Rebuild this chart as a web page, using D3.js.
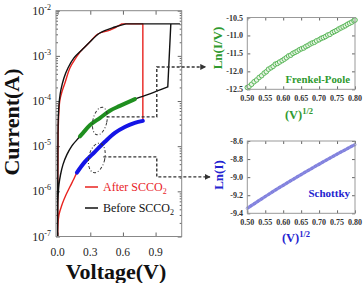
<!DOCTYPE html>
<html><head><meta charset="utf-8">
<script src="https://cdn.jsdelivr.net/npm/d3@7"></script>
<style>
body{margin:0;background:#fff}
svg{display:block}
text{font-family:"Liberation Serif","Times New Roman",serif}
</style>
</head><body>
<svg width="364" height="283"></svg>
<script>
// ---------- DATA ----------
const compliance = 5.1e-3;
// Before SCCO2: forward branch, set (compliance) segment, return branch
const beforeFwdV = [0,0.001,0.003,0.012,0.026,0.049,0.085,0.131,0.177,0.232,0.296,0.388,0.48,0.572,0.69,0.847,1.012];
const beforeFwdI = [1e-7,3.0e-7,6.5e-7,1.4e-6,2.3e-6,3.9e-6,6.5e-6,1.02e-5,1.38e-5,1.95e-5,2.9e-5,4.2e-5,6.1e-5,7.8e-5,1.05e-4,1.44e-4,2.05e-4];
const beforeSetV = [1.012,1.04,1.12,0.627];
const beforeRetV = [0.627,0.526,0.388,0.296,0.223,0.150,0.095,0.058,0.030,0.0165,0.007,0.003,0];
const beforeRetI = [5.1e-3,4.35e-3,3.21e-3,2.03e-3,1.35e-3,9.0e-4,5.4e-4,3.24e-4,1.76e-4,1.06e-4,4.9e-5,1.78e-5,1e-7];
// After SCCO2
const afterFwdV = [0,0.003,0.012,0.039,0.076,0.113,0.15,0.177,0.25,0.342,0.434,0.526,0.617,0.709,0.783];
const afterFwdI = [1e-7,1.8e-7,3.0e-7,5.0e-7,8.3e-7,1.26e-6,1.9e-6,2.6e-6,4.5e-6,7.5e-6,1.25e-5,1.97e-5,2.67e-5,3.27e-5,3.63e-5];
const afterSetV = [0.783,0.783,0.59];
const afterRetV = [0.59,0.48,0.37,0.278,0.205,0.168,0.113,0.067,0.039,0.021,0.012,0.0055,0.003,0];
const afterRetI = [5.1e-3,3.7e-3,3.05e-3,1.83e-3,1.22e-3,9.0e-4,5.4e-4,2.5e-4,1.58e-4,1.06e-4,6.3e-5,2.3e-5,5e-6,1e-7];
// Highlighted fitting regions
const fpRegionV = [0.205,0.232,0.296,0.388,0.48,0.572,0.69,0.71];
const fpRegionI = [1.65e-5,1.95e-5,2.9e-5,4.2e-5,6.1e-5,7.8e-5,1.05e-4,1.1e-4];
const schRegionV = [0.177,0.25,0.342,0.434,0.526,0.617,0.709,0.783];
const schRegionI = [2.6e-6,4.5e-6,7.5e-6,1.25e-5,1.97e-5,2.67e-5,3.27e-5,3.63e-5];
// Main axes ticks
const xTicks = [0.0,0.3,0.6,0.9];
const yDecades = [-7,-6,-5,-4,-3,-2];
// Legend
const legendLabels = ["After SCCO", "Before SCCO"];
// Frenkel-Poole inset
const fpX = [0.500,0.505,0.512,0.519,0.526,0.533,0.540,0.547,0.553,0.559,0.566,0.572,0.578,0.584,0.590,0.597,0.603,0.609,0.615,0.621,0.627,0.633,0.639,0.645,0.651,0.657,0.663,0.669,0.675,0.681,0.687,0.693,0.700,0.706,0.712,0.718,0.724,0.730,0.737,0.743,0.749,0.755,0.761,0.767,0.773,0.779,0.785,0.791,0.797,0.800];
const fpY = [-12.45,-12.42,-12.36,-12.29,-12.24,-12.17,-12.12,-12.05,-12.01,-11.94,-11.90,-11.86,-11.80,-11.78,-11.74,-11.70,-11.66,-11.62,-11.57,-11.55,-11.50,-11.47,-11.44,-11.40,-11.37,-11.35,-11.31,-11.28,-11.24,-11.21,-11.19,-11.15,-11.12,-11.08,-11.06,-11.03,-10.99,-10.97,-10.92,-10.89,-10.86,-10.82,-10.79,-10.76,-10.73,-10.69,-10.66,-10.63,-10.59,-10.57];
const fpYTicks = [-10.5,-11.0,-11.5,-12.0,-12.5];
// Schottky inset
const schX = [0.50,0.51,0.52,0.53,0.54,0.55,0.56,0.57,0.58,0.59,0.60,0.61,0.62,0.63,0.64,0.65,0.66,0.67,0.68,0.69,0.70,0.71,0.72,0.73,0.74,0.75,0.76,0.77,0.78,0.79,0.80];
const schY = [-9.345,-9.318,-9.292,-9.266,-9.240,-9.214,-9.189,-9.164,-9.139,-9.114,-9.090,-9.066,-9.042,-9.018,-8.994,-8.971,-8.948,-8.925,-8.902,-8.879,-8.857,-8.834,-8.812,-8.790,-8.768,-8.746,-8.724,-8.703,-8.681,-8.660,-8.640];
const schYTicks = [-8.6,-8.8,-9.0,-9.2,-9.4];
const insetXTicks = [0.50,0.55,0.60,0.65,0.70,0.75,0.80];
// Annotation anchors (data units of main plot)
const ellipseAnchors = [[0.388,3.6e-5],[0.36,5.5e-6]];
const connector1 = [[0.45,4.45e-5],[0.911,4.45e-5],[0.911,5.68e-4],[1.36,5.68e-4]];
const connector2 = [[0.42,5.79e-6],[0.911,5.79e-6],[0.911,2.09e-6],[1.40,2.09e-6]];

// ---------- COLOURS ----------
const RED = "#e8231f", BLACK = "#111", GREEN = "#1f8f1f", BLUE = "#1414e6";
const FPC = "#2f9a2f", FPM = "#5cb85c", SCHC = "#2323d0", SCHM = "#8d8de2";

const svg = d3.select("svg");
const defs = svg.append("defs");
defs.append("marker").attr("id","arr").attr("viewBox","0 0 10 10").attr("refX",9).attr("refY",5)
  .attr("markerWidth",6).attr("markerHeight",6).attr("markerUnits","userSpaceOnUse").attr("orient","auto")
  .append("path").attr("d","M0,0L10,5L0,10Z").attr("fill","#333");

// ---------- MAIN PLOT ----------
const x = d3.scaleLinear().domain([-0.015,1.14]).range([56,181.7]);
const y = d3.scaleLog().domain([1e-7,1e-2]).range([236.5,10.7]);
const [X0,X1] = x.range(), [Y0,Y1] = y.range();
const main = svg.append("g");

function inward(sel){ sel.select(".domain").remove(); sel.selectAll("line").attr("stroke","#666"); }
const minors = [];
yDecades.slice(0,-1).forEach(e=>{ for(let k=2;k<10;k++) minors.push(k*Math.pow(10,e)); });
const majors = yDecades.map(e=>Math.pow(10,e));

main.append("g").attr("transform",`translate(${X0},0)`).call(d3.axisLeft(y).tickValues(majors).tickSize(-4).tickFormat("")).call(inward);
main.append("g").attr("transform",`translate(${X0},0)`).call(d3.axisLeft(y).tickValues(minors).tickSize(-2).tickFormat("")).call(inward);
main.append("g").attr("transform",`translate(${X1},0)`).call(d3.axisRight(y).tickValues(majors).tickSize(-4).tickFormat("")).call(inward);
main.append("g").attr("transform",`translate(${X1},0)`).call(d3.axisRight(y).tickValues(minors).tickSize(-2).tickFormat("")).call(inward);
main.append("g").attr("transform",`translate(0,${Y0})`).call(d3.axisBottom(x).tickValues(xTicks).tickSize(-4).tickFormat("")).call(inward);
main.append("g").attr("transform",`translate(0,${Y1})`).call(d3.axisTop(x).tickValues(xTicks).tickSize(-4).tickFormat("")).call(inward);

const yl = main.selectAll(".ylab").data(yDecades).join("text")
  .attr("x",X0-5).attr("y",e=>y(Math.pow(10,e))+4).attr("text-anchor","end")
  .attr("font-size",12).attr("fill","#222").text("10");
yl.append("tspan").attr("dy",-5).attr("font-size",8).text(e=>"-"+Math.abs(e));
main.selectAll(".xlab").data(xTicks).join("text")
  .attr("x",d=>x(d)).attr("y",Y0+19).attr("text-anchor","middle")
  .attr("font-size",11.5).attr("fill","#222").text(d=>d3.format(".1f")(d));

const zip = (a,b)=>a.map((v,i)=>[v,b[i]]);
const smooth = d3.line().x(d=>x(d[0])).y(d=>y(d[1])).curve(d3.curveCatmullRom.alpha(0.5));
const straight = d3.line().x(d=>x(d[0])).y(d=>y(d[1]));

function sweep(fwdV,fwdI,setV,retV,retI,color){
  const fwd = zip(fwdV,fwdI);
  const set = setV.map((v,i)=>[v, i===0 ? fwd[fwd.length-1][1] : compliance]);
  const p = smooth(fwd) + straight(set).replace(/^M/,"L") + smooth(zip(retV,retI)).replace(/^M/,"L");
  main.append("path").attr("d",p).attr("fill","none").attr("stroke",color).attr("stroke-width",1.4).attr("stroke-linejoin","round");
}
sweep(afterFwdV,afterFwdI,afterSetV,afterRetV,afterRetI,RED);
sweep(beforeFwdV,beforeFwdI,beforeSetV,beforeRetV,beforeRetI,BLACK);
main.append("path").attr("d",smooth(zip(fpRegionV,fpRegionI))).attr("fill","none").attr("stroke",GREEN).attr("stroke-width",4).attr("stroke-linecap","round");
main.append("path").attr("d",smooth(zip(schRegionV,schRegionI))).attr("fill","none").attr("stroke",BLUE).attr("stroke-width",4).attr("stroke-linecap","round");

main.append("rect").attr("x",X0).attr("y",Y1).attr("width",X1-X0).attr("height",Y0-Y1)
  .attr("fill","none").attr("stroke","#888").attr("stroke-width",1);

ellipseAnchors.forEach((a,i)=>{
  main.append("ellipse").attr("cx",x(a[0])).attr("cy",y(a[1])).attr("rx",i?8:7).attr("ry",i?15:14)
    .attr("transform",`rotate(12,${x(a[0])},${y(a[1])})`)
    .attr("fill","none").attr("stroke","#333").attr("stroke-width",1).attr("stroke-dasharray","3,2,1,2");
});
[connector1,connector2].forEach(c=>{
  main.append("path").attr("d",straight(c)).attr("fill","none").attr("stroke","#333").attr("stroke-width",1.4)
    .attr("stroke-dasharray","3,2").attr("marker-end","url(#arr)");
});

const legColors = [RED,BLACK];
legendLabels.forEach((t,i)=>{
  const ly = 187 + i*21;
  main.append("line").attr("x1",85).attr("x2",98).attr("y1",ly).attr("y2",ly).attr("stroke",legColors[i]).attr("stroke-width",1.5);
  const tx = main.append("text").attr("x",103).attr("y",ly+4).attr("font-size",12).attr("fill",legColors[i]).text(t);
  tx.append("tspan").attr("dy",3).attr("font-size",8).text("2");
});

main.append("text").attr("transform","translate(19,122) rotate(-90)").attr("text-anchor","middle")
  .attr("font-size",22).attr("font-weight","bold").attr("fill","#111").text("Current(A)");
main.append("text").attr("x",116).attr("y",279).attr("text-anchor","middle")
  .attr("font-size",22).attr("font-weight","bold").attr("fill","#111").text("Voltage(V)");

// ---------- INSETS ----------
function inset(opt){
  const g = svg.append("g");
  const ix = d3.scaleLinear().domain([0.5,0.8]).range([247.3,355]);
  const iy = d3.scaleLinear().domain(opt.ydom).range([opt.bottom,opt.top]);
  g.append("g").attr("transform",`translate(${247.3},0)`).call(d3.axisLeft(iy).tickValues(opt.yticks).tickSize(-3).tickFormat("")).call(inward);
  g.append("g").attr("transform",`translate(0,${opt.bottom})`).call(d3.axisBottom(ix).tickValues(insetXTicks).tickSize(-3).tickFormat("")).call(inward);
  g.append("g").attr("transform",`translate(0,${opt.top})`).call(d3.axisTop(ix).tickValues(insetXTicks).tickSize(-3).tickFormat("")).call(inward);
  g.append("g").attr("transform",`translate(355,0)`).call(d3.axisRight(iy).tickValues(opt.yticks).tickSize(-3).tickFormat("")).call(inward);
  g.selectAll(".iyl").data(opt.yticks).join("text").attr("x",243).attr("y",d=>iy(d)+3)
    .attr("text-anchor","end").attr("font-size",8).attr("font-weight","bold").attr("fill","#333").text(d=>d3.format(".1f")(d).replace("−","-"));
  g.selectAll(".ixl").data(insetXTicks).join("text").attr("x",d=>ix(d)).attr("y",opt.bottom+12)
    .attr("text-anchor","middle").attr("font-size",8).attr("font-weight","bold").attr("fill","#333").text(d=>d3.format(".2f")(d));
  opt.draw(g,ix,iy);
  g.append("rect").attr("x",247.3).attr("y",opt.top).attr("width",355-247.3).attr("height",opt.bottom-opt.top)
    .attr("fill","none").attr("stroke","#999");
  const xl = g.append("text").attr("x",opt.xlx).attr("y",opt.xly).attr("text-anchor","middle")
    .attr("font-size",12.5).attr("font-weight","bold").attr("fill",opt.color).text("(V)");
  xl.append("tspan").attr("dy",-5).attr("font-size",8.5).text("1/2");
  g.append("text").attr("transform",`translate(${opt.ylx},${opt.yly}) rotate(-90)`).attr("text-anchor","middle")
    .attr("font-size",13).attr("font-weight","bold").attr("fill",opt.color).text(opt.ylabel);
  g.append("text").attr("x",350).attr("y",opt.tagY).attr("text-anchor","end")
    .attr("font-size",opt.tagSize).attr("font-weight","bold").attr("fill",opt.color).text(opt.tag);
}

inset({ydom:[-12.5,-10.5], top:17.5, bottom:89.3, yticks:fpYTicks, color:FPC,
  xlx:299, xly:119, ylx:222, yly:48, ylabel:"Ln(I/V)", tag:"Frenkel-Poole", tagY:83, tagSize:10.8,
  draw:(g,ix,iy)=>{
    g.selectAll(".fp").data(zip(fpX,fpY)).join("circle").attr("cx",d=>ix(d[0])).attr("cy",d=>iy(d[1]))
      .attr("r",2.3).attr("fill","#e8f5e4").attr("stroke",FPM).attr("stroke-width",1);
  }});
inset({ydom:[-9.4,-8.6], top:141, bottom:213.3, yticks:schYTicks, color:SCHC,
  xlx:296, xly:242, ylx:223, yly:175, ylabel:"Ln(I)", tag:"Schottky", tagY:197, tagSize:11,
  draw:(g,ix,iy)=>{
    g.append("path").attr("d",d3.line().x(d=>ix(d[0])).y(d=>iy(d[1]))(zip(schX,schY)))
      .attr("fill","none").attr("stroke",SCHM).attr("stroke-width",3.2);
    g.selectAll(".sc").data(zip(schX,schY)).join("circle").attr("cx",d=>ix(d[0])).attr("cy",d=>iy(d[1]))
      .attr("r",1.2).attr("fill","none").attr("stroke","#7373d6").attr("stroke-width",0.6);
  }});
</script>
</body></html>
